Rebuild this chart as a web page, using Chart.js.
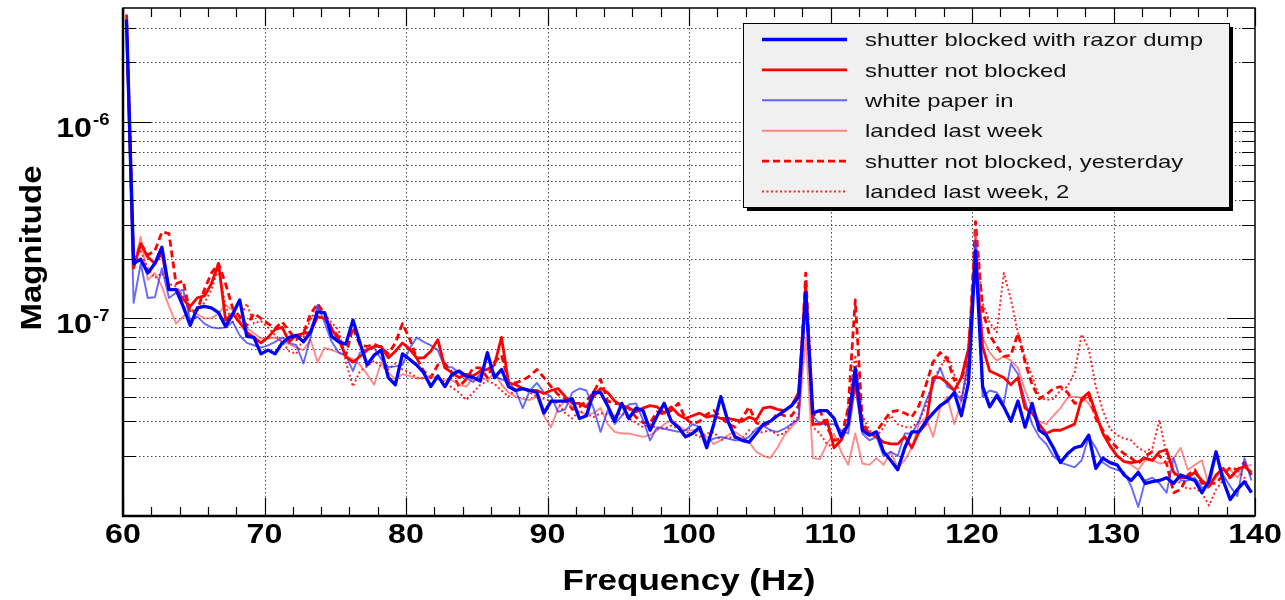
<!DOCTYPE html>
<html>
<head>
<meta charset="utf-8">
<script src="https://cdn.jsdelivr.net/npm/chart.js@4.4.0/dist/chart.umd.min.js"></script>
<style>
  body { margin: 0; background: #fff; }
  canvas { display: block; }
</style>
</head>
<body>
<canvas id="spectrum" width="1285" height="600"></canvas>
<script>
// --- DATA (magnitudes in units of 1e-8) ---
const UNIT = 1e-8;

const freqs = [
  60.25, 60.75, 61.25, 61.75, 62.25, 62.75, 63.25, 63.75, 64.25, 64.75,
  65.25, 65.75, 66.25, 66.75, 67.25, 67.75, 68.25, 68.75, 69.25, 69.75,
  70.25, 70.75, 71.25, 71.75, 72.25, 72.75, 73.25, 73.75, 74.25, 74.75,
  75.25, 75.75, 76.25, 76.75, 77.25, 77.75, 78.25, 78.75, 79.25, 79.75,
  80.25, 80.75, 81.25, 81.75, 82.25, 82.75, 83.25, 83.75, 84.25, 84.75,
  85.25, 85.75, 86.25, 86.75, 87.25, 87.75, 88.25, 88.75, 89.25, 89.75,
  90.25, 90.75, 91.25, 91.75, 92.25, 92.75, 93.25, 93.75, 94.25, 94.75,
  95.25, 95.75, 96.25, 96.75, 97.25, 97.75, 98.25, 98.75, 99.25, 99.75,
  100.25, 100.75, 101.25, 101.75, 102.25, 102.75, 103.25, 103.75, 104.25, 104.75,
  105.25, 105.75, 106.25, 106.75, 107.25, 107.75, 108.25, 108.75, 109.25, 109.75,
  110.25, 110.75, 111.25, 111.75, 112.25, 112.75, 113.25, 113.75, 114.25, 114.75,
  115.25, 115.75, 116.25, 116.75, 117.25, 117.75, 118.25, 118.75, 119.25, 119.75,
  120.25, 120.75, 121.25, 121.75, 122.25, 122.75, 123.25, 123.75, 124.25, 124.75,
  125.25, 125.75, 126.25, 126.75, 127.25, 127.75, 128.25, 128.75, 129.25, 129.75,
  130.25, 130.75, 131.25, 131.75, 132.25, 132.75, 133.25, 133.75, 134.25, 134.75,
  135.25, 135.75, 136.25, 136.75, 137.25, 137.75, 138.25, 138.75, 139.25, 139.75
];

const blockedRazor = [
  330, 19, 20, 17, 19, 23, 14, 14, 11.5, 9.2,
  11.3, 11.5, 11.3, 10.7, 9.1, 10.5, 12.4, 8.1, 8, 6.6,
  6.9, 6.6, 7.5, 8, 8.2, 7.6, 8.5, 10.8, 10.7, 8.1,
  7.6, 7.4, 9.8, 7.5, 5.8, 6.5, 6.9, 5, 4.6, 6.6,
  6.2, 5.8, 5.3, 4.5, 5.1, 4.5, 5.2, 5.4, 5.1, 5,
  4.8, 6.7, 5, 5.5, 4.5, 4.3, 4.4, 4.3, 4.2, 3.3,
  3.8, 3.8, 3.8, 3.9, 3.1, 3.2, 4.2, 4.2, 3.6, 3.0,
  3.7, 3.1, 3.5, 3.4, 2.7, 3.2, 3.7, 3.0, 2.8, 2.5,
  2.6, 2.8, 2.2, 2.9, 4.0, 3.0, 2.5, 2.4, 2.35, 2.6,
  2.9, 3.0, 3.2, 3.4, 3.6, 4.0, 13.5, 3.3, 3.4, 3.4,
  3.1, 2.5, 2.9, 5.6, 2.7, 2.55, 2.65, 2.1, 1.9, 1.7,
  2.2, 2.65, 2.65, 3.0, 3.3, 3.6, 3.8, 4.2, 3.2, 4.7,
  22, 4.5, 3.55, 4.05, 3.55, 3.0, 3.8, 2.8, 3.7, 2.7,
  2.55, 2.2, 1.85, 2.05, 2.2, 2.25, 2.55, 1.73, 1.95, 1.85,
  1.8, 1.6, 1.5, 1.65, 1.45, 1.48, 1.5, 1.55, 1.45, 1.6,
  1.55, 1.5, 1.3, 1.5, 2.1, 1.5, 1.2, 1.35, 1.48, 1.3
];

const notBlocked = [
  320, 18, 24, 20.5, 19, 21.5, 14, 14, 12.5, 11.5,
  12.7, 13, 15, 19, 9.8, 10.6, 9.5, 8.5, 8, 7.5,
  8, 8.8, 9.0, 7.6, 8.2, 8.4, 8.5, 10.2, 10, 8.8,
  7.8, 6.4, 6.0, 6.4, 6.9, 7.2, 7.2, 6.3, 6.8, 7.5,
  7.0, 6.3, 6.3, 6.8, 7.8, 5.6, 5.3, 5.0, 5.2, 5.1,
  5.4, 5.5, 5.8, 8.0, 4.7, 4.6, 4.4, 4.3, 4.3, 4.15,
  4.3, 4.4, 4.0, 3.7, 3.7, 3.55, 4.0, 4.4, 4.2, 3.8,
  3.6, 3.5, 3.35, 3.5, 3.6, 3.55, 3.3, 3.55, 3.25, 3.1,
  3.2, 3.3, 3.15, 3.2, 3.1, 3.1, 3.05, 3.0, 3.15, 3.05,
  3.5, 3.55, 3.45, 3.4, 3.6, 4.2, 15, 2.9, 2.9, 3.05,
  2.2, 2.4, 2.9, 4.8, 2.8, 2.6, 2.5, 2.35, 2.3, 2.3,
  2.5, 2.2, 2.65, 2.9, 5.0, 5.0, 4.7, 4.3, 5.0, 7,
  20, 7.2, 5.4, 5.2, 5.0, 4.6, 5.0, 3.5, 3.3, 2.9,
  2.6, 2.7, 2.7, 2.8, 2.9, 3.9, 4.2, 3.3, 2.6, 2.25,
  2.0, 1.87, 1.85, 1.87, 1.95, 1.9, 2.1, 2.15, 1.65, 1.55,
  1.55, 1.65, 1.5, 1.4, 1.6, 1.73, 1.55, 1.7, 1.77, 1.65
];

const whitePaper = [
  250, 12, 19, 12.7, 12.8, 18, 12.7, 13.5, 14, 9.8,
  10.2, 9.4, 9, 8.9, 9, 9.6, 8.2, 7.5, 7.3, 7.1,
  7.3, 7.6, 8, 7.5, 7.3, 5.9, 8, 11.7, 9.5, 7.6,
  6.7, 6.5, 5.4, 6.7, 7, 7.1, 6.2, 5.65, 5.7, 5.8,
  7, 8, 7.6, 7.3, 6.9, 5.6, 5.65, 5.3, 5, 4.75,
  5.2, 6.4, 5.1, 4.9, 4.75, 4.3, 3.5, 4.3, 4.7, 4.2,
  4.0, 3.35, 3.45, 4.2, 4.4, 4.3, 3.5, 2.65, 3.4, 2.9,
  3.2, 3.65, 3.7, 3.05, 2.4, 2.8, 2.75, 2.7, 2.65, 2.7,
  2.9, 2.8, 2.35, 2.45, 2.5, 2.45, 2.4, 2.4, 2.5, 2.75,
  2.85, 2.7, 2.65, 2.75, 2.9, 3.1, 13, 3.2, 2.9, 2.9,
  2.9, 2.7, 2.6, 4.5, 2.6, 2.4, 2.5, 2.0, 2.1, 2.0,
  2.6, 2.6, 3.0, 3.8, 4.6, 5.6, 4.5, 4.3, 3.8, 6,
  25, 4.0, 4.3, 4.2, 3.7, 5.9, 5.2, 3.8, 2.9, 2.5,
  2.3, 2.0, 1.85, 1.8, 1.75, 1.9, 2.5, 2.2, 1.85, 1.75,
  1.7, 1.65, 1.4, 1.1, 1.5, 1.55, 1.45, 1.3, 1.95, 1.5,
  1.5, 1.55, 1.38, 1.38, 2.05, 1.6, 1.4, 1.25, 1.95, 1.5
];

const landedLastWeek = [
  280, 18, 26, 15.7, 17, 14.5, 11.5, 9.4, 10.2, 11,
  10.5, 10, 10, 10.6, 11.7, 11, 9.8, 8.9, 8.4, 7.9,
  7.9, 8, 7.6, 7.4, 7.1, 6.9, 7.8, 6.0, 7.1, 6.9,
  6.7, 6.4, 6.2, 5.8, 5.2, 4.6, 6.0, 5.3, 4.9, 5.2,
  5.1, 4.95, 5.0, 5.1, 4.9, 4.85, 4.85, 4.6, 4.5, 5.0,
  5.0, 4.85, 5.3, 4.6, 4.2, 4.0, 3.9, 3.85, 4.0, 3.2,
  2.8, 3.5, 3.8, 3.55, 3.35, 3.25, 3.3, 3.5, 2.9, 2.65,
  2.6, 2.6, 2.55, 2.5, 2.55, 2.7, 2.9, 3.05, 2.85, 2.7,
  2.7, 2.65, 2.5, 2.3, 2.4, 2.55, 2.65, 2.5, 2.35, 2.1,
  2.0, 1.95, 2.2, 2.55, 2.8, 3.05, 8, 1.95, 1.93, 2.3,
  2.6, 2.1, 1.8, 2.6, 1.83, 1.8, 1.95, 1.8, 2.1, 1.75,
  1.9, 2.2, 2.9, 3.15, 2.5, 3.5, 4.0, 2.9, 3.8, 6.5,
  28, 8, 6.7, 6.1, 6.4, 6.1, 5.6, 4.3, 3.5, 3.0,
  2.9, 3.2, 3.5, 3.95, 4.0, 3.95, 3.7, 3.2, 2.6, 2.25,
  2.0, 1.88, 1.8, 1.7, 1.9, 1.9, 1.83, 1.85, 1.95, 2.2,
  1.7, 1.8, 1.9, 1.4, 1.55, 1.7, 1.7, 1.55, 1.77, 1.8
];

const notBlockedYesterday = [
  350, 18.5, 24, 21, 22, 27.5, 27, 15, 15.5, 10.6,
  11, 14, 17, 19, 15, 11.3, 10.2, 9.2, 10.6, 10,
  9.4, 8.9, 9.6, 8.6, 7.8, 8.4, 10.5, 11.9, 10.5, 8.9,
  8, 6.5, 9.0, 7.3, 7.2, 7.4, 7.1, 6.6, 7.5, 9.4,
  7.9, 6.3, 5.4, 5.0, 5.8, 5.9, 5.3, 4.5, 4.9, 5.6,
  5.6, 5.0, 6.0, 6.5, 4.75, 4.7, 4.85, 5.1, 5.5, 5.0,
  4.5, 4.1, 3.9, 3.45, 3.55, 3.8, 4.2, 4.9, 3.8, 3.7,
  3.65, 3.5, 3.15, 2.95, 2.95, 3.35, 3.25, 3.4, 3.7, 3.1,
  2.9, 3.0, 3.25, 3.4, 3.15, 2.9, 2.8, 3.1, 3.55, 2.95,
  2.85, 2.95, 3.3, 3.2, 3.2, 3.6, 17, 3.2, 3.4, 2.8,
  2.4, 2.45, 3.5, 12.4, 3.0, 2.55, 2.65, 3.0, 3.35, 3.4,
  3.3, 3.15, 3.6, 4.6, 6.0, 6.7, 6.2, 4.85, 5.0, 6.1,
  31, 11, 8.2, 7.2, 6.4, 6.5, 8.4, 6.0, 4.6, 3.9,
  4.1, 4.4, 4.5, 4.2, 3.7, 3.8, 4.1, 3.1, 2.7, 2.4,
  2.2, 2.05, 1.95, 1.83, 2.0, 2.1, 2.0, 1.83, 1.3, 1.35,
  1.6, 1.7, 1.45, 1.45, 1.45, 1.6, 1.75, 1.7, 1.85, 1.6
];

const landedLastWeek2 = [
  320, 20, 22, 18, 16, 17, 15, 14.5, 13, 11,
  11, 12, 14, 18, 11.5, 9.6, 10, 11.9, 9.4, 9.7,
  9, 8.2, 7.6, 6.8, 6.6, 8, 9.9, 11.2, 10.5, 9.5,
  8.7, 6, 4.5, 5.4, 5.7, 6.1, 5.7, 5.5, 5.9, 5.5,
  5.3, 5.0, 4.95, 5.0, 5.0, 4.7, 4.45, 4.2, 3.85, 4.2,
  4.6, 4.8, 4.65, 4.3, 4.0, 4.4, 4.4, 4.2, 4.0, 3.9,
  3.8, 3.7, 3.3, 3.1, 3.4, 3.25, 3.15, 3.3, 3.25, 3.2,
  3.3, 3.1, 2.95, 2.8, 2.9, 2.75, 2.75, 2.85, 2.75, 2.65,
  2.6, 2.5, 2.6, 2.65, 2.4, 2.5, 2.45, 2.45, 2.7, 2.6,
  2.65, 2.7, 2.55, 2.6, 2.9, 3.2, 12, 2.8, 2.6, 2.3,
  2.2, 2.4, 3.5, 6.5, 3.2, 2.7, 2.5, 2.8, 3.2, 2.9,
  2.8, 2.8, 3.0, 3.6, 4.9, 5.6, 6.5, 5.2, 3.9, 5.5,
  26, 12, 9.5, 8.5, 17, 12.5, 8.4, 6.3, 5.1, 4.0,
  3.85, 3.9, 4.3, 4.5, 5.3, 8.3, 7.0, 4.5, 3.4, 2.75,
  2.55, 2.45, 2.4, 2.2, 2.1, 2.2, 3.05, 2.0, 1.65, 1.42,
  1.36, 1.37, 1.3, 1.12, 1.35, 1.5, 1.55, 1.7, 1.55, 1.3
];

// axis labels
const xTickValues = [60, 70, 80, 90, 100, 110, 120, 130, 140];
const yLabelExponents = [-6, -7];
const xTitle = 'Frequency (Hz)';
const yTitle = 'Magnitude';

const FONT = '"Liberation Sans", Arial, Helvetica, sans-serif';

function pts(arr) {
  return freqs.map((f, i) => ({ x: f, y: arr[i] * UNIT }));
}

// log grid positions: 1..9 x each decade inside the axis range
function logGrid(min, max) {
  const out = [];
  for (let e = -9; e <= -5; e++) {
    for (let m = 1; m <= 9; m++) {
      const v = m * Math.pow(10, e);
      if (v > min && v < max) out.push({ v: v, major: m === 1 });
    }
  }
  return out;
}

// text squeezed/stretched horizontally like the original export
function drawText(ctx, text, x, y, font, align, sx) {
  ctx.save();
  ctx.font = font;
  ctx.textAlign = align;
  ctx.textBaseline = 'alphabetic';
  ctx.translate(x, y);
  ctx.scale(sx, 1);
  ctx.fillText(text, 0, 0);
  ctx.restore();
}

function textScale(ctx, text, font, targetWidth) {
  ctx.save();
  ctx.font = font;
  const w = ctx.measureText(text).width;
  ctx.restore();
  return targetWidth / w;
}

const rootFrame = {
  id: 'rootFrame',
  beforeDatasetsDraw(chart) {
    const { ctx, chartArea: a, scales: { x, y } } = chart;
    ctx.save();
    ctx.strokeStyle = '#444';
    ctx.lineWidth = 1;
    ctx.setLineDash([1.5, 2.5]);
    // vertical grid
    xTickValues.forEach(v => {
      if (v <= x.min || v >= x.max) return;
      const px = Math.round(x.getPixelForValue(v)) + 0.5;
      ctx.beginPath(); ctx.moveTo(px, a.top); ctx.lineTo(px, a.bottom); ctx.stroke();
    });
    // horizontal grid
    logGrid(y.min, y.max).forEach(g => {
      const py = Math.round(y.getPixelForValue(g.v)) + 0.5;
      ctx.beginPath(); ctx.moveTo(a.left, py); ctx.lineTo(a.right, py); ctx.stroke();
    });
    ctx.restore();
  },
  afterDatasetsDraw(chart) {
    const { ctx, chartArea: a, scales: { x, y } } = chart;
    ctx.save();
    ctx.strokeStyle = '#000';
    ctx.setLineDash([]);
    // ticks on x (bottom and top, pointing inward)
    ctx.lineWidth = 1.2;
    for (let v = x.min; v <= x.max; v += 2) {
      const px = Math.round(x.getPixelForValue(v)) + 0.5;
      const len = (v % 10 === 0) ? 18 : 9;
      ctx.beginPath();
      ctx.moveTo(px, a.bottom); ctx.lineTo(px, a.bottom - len);
      ctx.moveTo(px, a.top); ctx.lineTo(px, a.top + len);
      ctx.stroke();
    }
    // ticks on y (left and right)
    logGrid(y.min, y.max).forEach(g => {
      const py = Math.round(y.getPixelForValue(g.v)) + 0.5;
      const len = g.major ? 28 : 13;
      ctx.beginPath();
      ctx.moveTo(a.left, py); ctx.lineTo(a.left + len, py);
      ctx.moveTo(a.right, py); ctx.lineTo(a.right - len, py);
      ctx.stroke();
    });
    // frame
    ctx.lineWidth = 1.5;
    ctx.strokeRect(a.left, a.top, a.right - a.left, a.bottom - a.top);
    ctx.lineWidth = 2.5;
    ctx.beginPath();
    ctx.moveTo(a.left, a.top); ctx.lineTo(a.left, a.bottom); ctx.lineTo(a.right, a.bottom);
    ctx.stroke();
    ctx.restore();
  },
  afterDraw(chart) {
    const { ctx, chartArea: a, scales: { x, y } } = chart;
    ctx.save();
    ctx.fillStyle = '#000';

    // x tick labels
    const tickFont = 'bold 28px ' + FONT;
    xTickValues.forEach(v => {
      drawText(ctx, String(v), x.getPixelForValue(v), 543, tickFont, 'center', 1.15);
    });

    // y tick labels: 10^-6, 10^-7
    yLabelExponents.forEach(e => {
      const py = y.getPixelForValue(Math.pow(10, e));
      drawText(ctx, '10', 92, py + 15, tickFont, 'right', 1.15);
      drawText(ctx, '-' + Math.abs(e), 93, py + 3, 'bold 16px ' + FONT, 'left', 1.15);
    });

    // axis titles
    const titleFont = 'bold 29px ' + FONT;
    const sxX = textScale(ctx, xTitle, titleFont, 253);
    drawText(ctx, xTitle, (a.left + a.right) / 2, 590, titleFont, 'center', sxX);

    const sxY = textScale(ctx, yTitle, titleFont, 165);
    ctx.save();
    ctx.translate(41, 248);
    ctx.rotate(-Math.PI / 2);
    drawText(ctx, yTitle, 0, 0, titleFont, 'center', sxY);
    ctx.restore();

    // legend box with shadow
    const bx = 743, by = 23, bw = 486, bh = 184;
    ctx.fillStyle = '#000';
    ctx.fillRect(bx + 4, by + 4, bw, bh);
    ctx.fillStyle = '#f0f0f0';
    ctx.fillRect(bx, by, bw, bh);
    ctx.strokeStyle = '#000';
    ctx.lineWidth = 1;
    ctx.strokeRect(bx + 0.5, by + 0.5, bw, bh);

    const legendFont = '18.5px ' + FONT;
    const sxL = textScale(ctx, chart.data.datasets[0].label, legendFont, 338);
    chart.data.datasets.forEach((ds, i) => {
      const ry = 39.5 + i * 30.4;
      ctx.save();
      ctx.strokeStyle = ds.borderColor;
      ctx.lineWidth = ds.borderWidth;
      ctx.setLineDash(ds.borderDash || []);
      ctx.beginPath(); ctx.moveTo(762, ry); ctx.lineTo(847, ry); ctx.stroke();
      ctx.restore();
      ctx.fillStyle = '#111';
      drawText(ctx, ds.label, 865, ry + 6.7, legendFont, 'left', sxL);
    });
    ctx.restore();
  }
};

const lineBase = { pointRadius: 0, tension: 0, fill: false, borderJoinStyle: 'round' };

new Chart(document.getElementById('spectrum'), {
  type: 'line',
  data: {
    datasets: [
      Object.assign({ label: 'shutter blocked with razor dump', data: pts(blockedRazor),
        borderColor: '#0000ff', borderWidth: 3.3 }, lineBase),
      Object.assign({ label: 'shutter not blocked', data: pts(notBlocked),
        borderColor: '#ff0000', borderWidth: 2.8 }, lineBase),
      Object.assign({ label: 'white paper in', data: pts(whitePaper),
        borderColor: 'rgba(40,40,255,0.7)', borderWidth: 1.9 }, lineBase),
      Object.assign({ label: 'landed last week', data: pts(landedLastWeek),
        borderColor: 'rgba(255,60,60,0.6)', borderWidth: 1.9 }, lineBase),
      Object.assign({ label: 'shutter not blocked, yesterday', data: pts(notBlockedYesterday),
        borderColor: '#ff0000', borderWidth: 2.8, borderDash: [7, 4] }, lineBase),
      Object.assign({ label: 'landed last week, 2', data: pts(landedLastWeek2),
        borderColor: 'rgba(255,0,0,0.85)', borderWidth: 2, borderDash: [2, 2.5] }, lineBase)
    ]
  },
  options: {
    responsive: false,
    animation: false,
    events: [],
    layout: { padding: { left: 123, right: 30, top: 8, bottom: 84 } },
    plugins: { legend: { display: false }, tooltip: { enabled: false } },
    scales: {
      x: { type: 'linear', min: 60, max: 140, bounds: 'data', display: false },
      y: { type: 'logarithmic', min: 9.9e-9, max: 3.78e-6, bounds: 'data', display: false }
    }
  },
  plugins: [rootFrame]
});
</script>
</body>
</html>
